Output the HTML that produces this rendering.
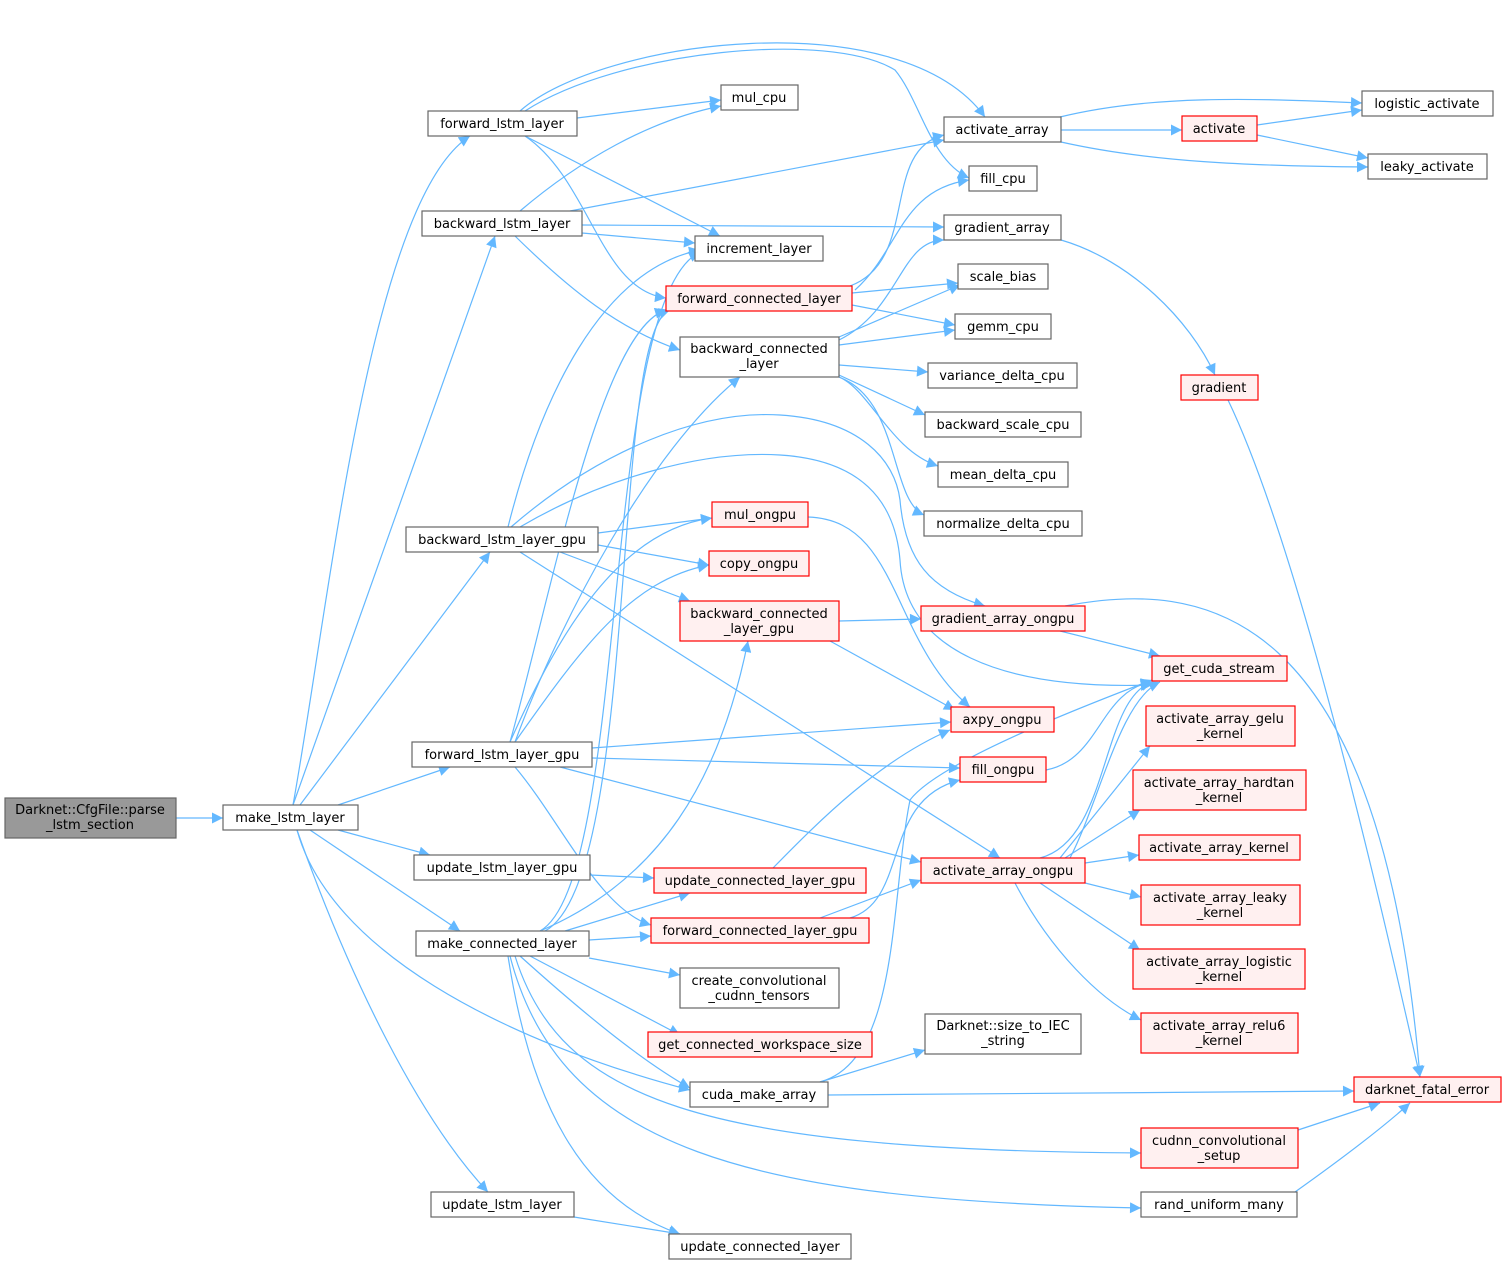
<!DOCTYPE html>
<html><head><meta charset="utf-8"><style>
body{margin:0;background:#fff}
svg{display:block}
text{font-family:"DejaVu Sans","Liberation Sans",sans-serif;font-size:13px;fill:#000;text-anchor:middle}
.e{fill:none;stroke:#63b8ff;stroke-width:1.2}
.n{fill:#fff;stroke:#666;stroke-width:1.2}
.r{fill:#fff0f0;stroke:#f00;stroke-width:1.2}
.g{fill:#999;stroke:#666;stroke-width:1.2}
</style></head><body>
<svg width="1507" height="1266" viewBox="0 0 1507 1266" xmlns="http://www.w3.org/2000/svg">
<defs><marker id="a" viewBox="0 0 10 10" refX="10" refY="5" markerWidth="15" markerHeight="11" markerUnits="userSpaceOnUse" orient="auto"><path d="M0,0 L10,5 L0,10 z" fill="#63b8ff"/></marker></defs>
<g class="e" marker-end="url(#a)">
<path d="M176,818 L223,818"/>
<path d="M293,805 C330,600 370,200 470,136"/>
<path d="M293,805 L495,236"/>
<path d="M300,805 L490,552"/>
<path d="M338,805 L450,767"/>
<path d="M338,830 L430,855"/>
<path d="M310,830 L460,931"/>
<path d="M297,830 C330,950 500,1040 690,1090"/>
<path d="M297,830 C350,980 420,1120 488,1192"/>
<path d="M520,111 C600,40 900,0 985,117"/>
<path d="M525,111 C620,50 830,30 895,70 C920,100 930,160 969,178"/>
<path d="M577,118 L721,100"/>
<path d="M525,136 L720,236"/>
<path d="M525,136 C590,180 600,290 666,298"/>
<path d="M520,211 C580,160 650,120 721,106"/>
<path d="M570,211 L944,140"/>
<path d="M582,225 L944,227"/>
<path d="M582,233 L695,243"/>
<path d="M515,236 C570,290 620,330 680,350"/>
<path d="M508,527 C540,400 600,270 700,250"/>
<path d="M511,527 C600,450 700,410 780,415 C860,420 895,460 900,500 C905,560 930,590 985,606"/>
<path d="M520,527 C600,480 700,450 780,455 C860,460 895,500 900,560 C905,650 1000,690 1152,685"/>
<path d="M598,533 L712,518"/>
<path d="M598,545 L709,565"/>
<path d="M560,552 L690,601"/>
<path d="M520,552 L1000,858"/>
<path d="M510,742 C550,600 600,330 666,310"/>
<path d="M515,742 C560,620 650,450 740,377"/>
<path d="M510,742 C560,630 620,530 712,518"/>
<path d="M515,742 C580,650 630,580 709,565"/>
<path d="M592,748 L951,722"/>
<path d="M592,758 L960,768"/>
<path d="M560,767 L921,862"/>
<path d="M515,767 C560,820 600,910 651,925"/>
<path d="M590,875 L654,878"/>
<path d="M540,931 C630,880 600,300 700,252"/>
<path d="M545,931 C640,880 610,330 670,310"/>
<path d="M540,931 C660,880 720,780 748,641"/>
<path d="M565,931 L690,893"/>
<path d="M589,940 L651,936"/>
<path d="M589,958 L680,975"/>
<path d="M530,956 L680,1035"/>
<path d="M520,956 C580,1010 640,1060 690,1088"/>
<path d="M515,956 C560,1100 700,1150 1141,1153"/>
<path d="M510,956 C560,1150 750,1200 1141,1208"/>
<path d="M508,956 C530,1100 580,1200 680,1234"/>
<path d="M574,1217 L680,1234"/>
<path d="M850,286 C920,260 880,150 944,135"/>
<path d="M855,290 C900,250 900,190 969,180"/>
<path d="M852,293 L958,283"/>
<path d="M852,305 L955,325"/>
<path d="M839,340 C900,310 900,240 944,240"/>
<path d="M839,337 L960,285"/>
<path d="M839,345 L955,330"/>
<path d="M839,365 L928,372"/>
<path d="M839,375 L925,415"/>
<path d="M839,377 C870,390 890,450 938,466"/>
<path d="M839,377 C900,400 890,500 924,515"/>
<path d="M808,517 C900,520 890,640 970,707"/>
<path d="M839,621 L921,619"/>
<path d="M830,641 L955,710"/>
<path d="M773,868 C820,820 880,760 950,730"/>
<path d="M820,918 L921,880"/>
<path d="M850,918 C910,900 880,800 960,780"/>
<path d="M820,1082 L925,1050"/>
<path d="M828,1095 L1354,1091"/>
<path d="M820,1082 C900,1060 890,900 910,800 C940,760 1100,700 1152,680"/>
<path d="M1060,117 C1150,95 1250,98 1362,103"/>
<path d="M1061,130 L1182,130"/>
<path d="M1061,142 C1150,162 1250,166 1368,167"/>
<path d="M1257,125 L1362,110"/>
<path d="M1257,135 L1368,158"/>
<path d="M1061,240 C1130,260 1190,320 1215,375"/>
<path d="M1228,400 C1300,550 1380,900 1420,1077"/>
<path d="M1060,631 L1160,656"/>
<path d="M1065,606 C1200,580 1380,600 1420,1077"/>
<path d="M1046,770 C1100,760 1100,690 1152,682"/>
<path d="M1040,858 C1110,840 1100,700 1152,682"/>
<path d="M1070,858 C1100,800 1120,700 1160,682"/>
<path d="M1060,858 L1150,746"/>
<path d="M1065,858 L1140,810"/>
<path d="M1085,863 L1139,855"/>
<path d="M1085,883 L1141,897"/>
<path d="M1040,883 L1140,950"/>
<path d="M1015,883 C1050,950 1100,1000 1141,1020"/>
<path d="M1298,1130 L1380,1103"/>
<path d="M1295,1192 C1340,1160 1380,1130 1410,1103"/>
</g>
<g>
<rect class="g" x="5" y="798" width="171" height="40"/><text x="90" y="814">Darknet::CfgFile::parse</text><text x="90" y="829">_lstm_section</text>
<rect class="n" x="223" y="805" width="135" height="25"/><text x="290" y="822">make_lstm_layer</text>
<rect class="n" x="428" y="111" width="149" height="25"/><text x="502" y="128">forward_lstm_layer</text>
<rect class="n" x="422" y="211" width="160" height="25"/><text x="502" y="228">backward_lstm_layer</text>
<rect class="n" x="406" y="527" width="192" height="25"/><text x="502" y="544">backward_lstm_layer_gpu</text>
<rect class="n" x="412" y="742" width="180" height="25"/><text x="502" y="759">forward_lstm_layer_gpu</text>
<rect class="n" x="414" y="855" width="176" height="25"/><text x="502" y="872">update_lstm_layer_gpu</text>
<rect class="n" x="416" y="931" width="173" height="25"/><text x="502" y="948">make_connected_layer</text>
<rect class="n" x="431" y="1192" width="143" height="25"/><text x="502" y="1209">update_lstm_layer</text>
<rect class="n" x="721" y="85" width="77" height="25"/><text x="759" y="102">mul_cpu</text>
<rect class="n" x="695" y="236" width="128" height="25"/><text x="759" y="253">increment_layer</text>
<rect class="r" x="666" y="286" width="186" height="25"/><text x="759" y="303">forward_connected_layer</text>
<rect class="n" x="680" y="337" width="159" height="40"/><text x="759" y="353">backward_connected</text><text x="759" y="368">_layer</text>
<rect class="r" x="712" y="502" width="96" height="25"/><text x="760" y="519">mul_ongpu</text>
<rect class="r" x="709" y="551" width="100" height="25"/><text x="759" y="568">copy_ongpu</text>
<rect class="r" x="680" y="601" width="159" height="40"/><text x="759" y="618">backward_connected</text><text x="759" y="633">_layer_gpu</text>
<rect class="r" x="654" y="868" width="212" height="25"/><text x="760" y="885">update_connected_layer_gpu</text>
<rect class="r" x="651" y="918" width="218" height="25"/><text x="760" y="935">forward_connected_layer_gpu</text>
<rect class="n" x="680" y="968" width="159" height="40"/><text x="759" y="985">create_convolutional</text><text x="759" y="1000">_cudnn_tensors</text>
<rect class="r" x="648" y="1032" width="224" height="25"/><text x="760" y="1049">get_connected_workspace_size</text>
<rect class="n" x="690" y="1082" width="138" height="25"/><text x="759" y="1099">cuda_make_array</text>
<rect class="n" x="669" y="1234" width="182" height="25"/><text x="760" y="1251">update_connected_layer</text>
<rect class="n" x="944" y="117" width="117" height="25"/><text x="1002" y="134">activate_array</text>
<rect class="n" x="969" y="166" width="68" height="25"/><text x="1003" y="183">fill_cpu</text>
<rect class="n" x="944" y="215" width="117" height="25"/><text x="1002" y="232">gradient_array</text>
<rect class="n" x="958" y="264" width="90" height="25"/><text x="1003" y="281">scale_bias</text>
<rect class="n" x="955" y="314" width="96" height="25"/><text x="1003" y="331">gemm_cpu</text>
<rect class="n" x="928" y="363" width="149" height="25"/><text x="1002" y="380">variance_delta_cpu</text>
<rect class="n" x="925" y="412" width="156" height="25"/><text x="1003" y="429">backward_scale_cpu</text>
<rect class="n" x="938" y="462" width="130" height="25"/><text x="1003" y="479">mean_delta_cpu</text>
<rect class="n" x="924" y="511" width="158" height="25"/><text x="1003" y="528">normalize_delta_cpu</text>
<rect class="r" x="921" y="606" width="164" height="25"/><text x="1003" y="623">gradient_array_ongpu</text>
<rect class="r" x="951" y="707" width="103" height="25"/><text x="1002" y="724">axpy_ongpu</text>
<rect class="r" x="960" y="757" width="86" height="25"/><text x="1003" y="774">fill_ongpu</text>
<rect class="r" x="921" y="858" width="164" height="25"/><text x="1003" y="875">activate_array_ongpu</text>
<rect class="n" x="925" y="1014" width="156" height="40"/><text x="1003" y="1030">Darknet::size_to_IEC</text><text x="1003" y="1045">_string</text>
<rect class="r" x="1182" y="116" width="75" height="25"/><text x="1219" y="133">activate</text>
<rect class="r" x="1181" y="375" width="77" height="25"/><text x="1219" y="392">gradient</text>
<rect class="r" x="1152" y="656" width="135" height="25"/><text x="1219" y="673">get_cuda_stream</text>
<rect class="r" x="1146" y="706" width="149" height="40"/><text x="1220" y="723">activate_array_gelu</text><text x="1220" y="738">_kernel</text>
<rect class="r" x="1133" y="770" width="173" height="40"/><text x="1219" y="787">activate_array_hardtan</text><text x="1219" y="802">_kernel</text>
<rect class="r" x="1139" y="835" width="161" height="25"/><text x="1219" y="852">activate_array_kernel</text>
<rect class="r" x="1141" y="885" width="159" height="40"/><text x="1220" y="902">activate_array_leaky</text><text x="1220" y="917">_kernel</text>
<rect class="r" x="1133" y="949" width="172" height="40"/><text x="1219" y="966">activate_array_logistic</text><text x="1219" y="981">_kernel</text>
<rect class="r" x="1141" y="1013" width="157" height="40"/><text x="1219" y="1030">activate_array_relu6</text><text x="1219" y="1045">_kernel</text>
<rect class="r" x="1141" y="1128" width="157" height="40"/><text x="1219" y="1145">cudnn_convolutional</text><text x="1219" y="1160">_setup</text>
<rect class="n" x="1141" y="1192" width="156" height="25"/><text x="1219" y="1209">rand_uniform_many</text>
<rect class="n" x="1362" y="91" width="131" height="25"/><text x="1427" y="108">logistic_activate</text>
<rect class="n" x="1368" y="154" width="119" height="25"/><text x="1427" y="171">leaky_activate</text>
<rect class="r" x="1354" y="1077" width="147" height="25"/><text x="1427" y="1094">darknet_fatal_error</text>
</g>
</svg>
</body></html>
